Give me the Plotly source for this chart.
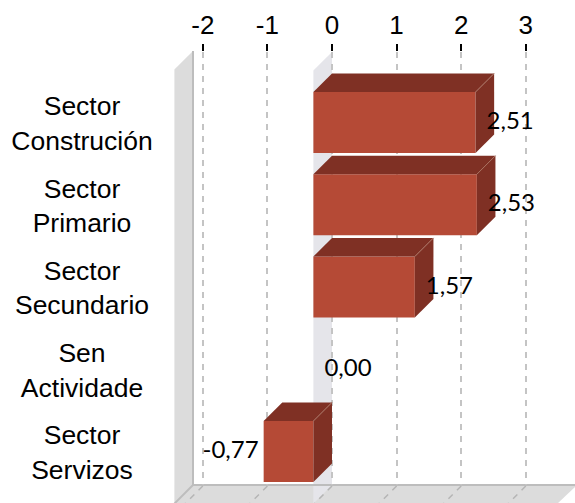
import plotly.graph_objects as go

categories = ["Sector<br>Construción", "Sector<br>Primario", "Sector<br>Secundario", "Sen<br>Actividade", "Sector<br>Servizos"]
values = [2.51, 2.53, 1.57, 0.00, -0.77]
value_labels = ["2,51", "2,53", "1,57", "0,00", "-0,77"]
x_ticks = [-2, -1, 0, 1, 2, 3]

W, H = 575, 503
X0, XU = 332.0, 64.6      # pixel of value 0 on back plane, pixels per unit
Y0, YU = 122.5, 82.25     # pixel of first category centre, pixels per category
DPX = 18.6                # oblique depth of the 3D box in pixels
TOP, BOTTOM = 52, 485

dx, dy = DPX / XU, DPX / YU
bar_h = 61 / YU
ys = list(range(len(values)))
FRONT = "#b54a36"
DARK = "#7f3024"
WALL = "#dcdcdc"
EDGE = "#bdbdbd"

def px(x, y):
    return x / W, 1 - y / H

def poly(points, fill, line=None, width=0, layer="below", opacity=1):
    p = [px(*q) for q in points]
    path = "M " + " L ".join(f"{a:.5f},{b:.5f}" for a, b in p) + " Z"
    return dict(type="path", xref="paper", yref="paper", path=path, fillcolor=fill,
                line=dict(color=line or fill, width=width), layer=layer, opacity=opacity)

def seg(a, b, color, width=1, dash="solid", layer="below"):
    (x0, y0), (x1, y1) = px(*a), px(*b)
    return dict(type="line", xref="paper", yref="paper", x0=x0, y0=y0, x1=x1, y1=y1,
                line=dict(color=color, width=width, dash=dash), layer=layer)

shapes = [
    poly([(193, 51), (193, BOTTOM), (174.4, 503.6), (174.4, 69.6)], WALL),
    poly([(193, BOTTOM), (577, BOTTOM), (557, 504), (174.4, 504)], WALL),
    poly([(X0, TOP), (X0, BOTTOM), (X0 - DPX, 503.6), (X0 - DPX, TOP + DPX)], "#e5e5ea"),
    seg((193, 51), (193, BOTTOM), EDGE, 2),
    seg((193, BOTTOM), (576, BOTTOM), EDGE, 2),
    seg((193, BOTTOM), (174.4, 503.6), EDGE, 2),
]
for t in x_ticks:
    tx = X0 + t * XU
    shapes.append(seg((tx, BOTTOM + 1), (tx - DPX, BOTTOM + 1 + DPX), "#b5b5b5", 1.5, "6px,6px"))

fig = go.Figure()
fig.add_trace(go.Bar(
    y=ys, x=values, base=[-dx] * len(values), orientation="h", width=bar_h,
    marker=dict(color=FRONT, line=dict(width=0)), hoverinfo="skip", showlegend=False,
))

for v, y in zip(values, ys):
    if v == 0:
        continue
    lo, hi = min(v, 0) - dx, max(v, 0) - dx
    t, b = y - bar_h / 2, y + bar_h / 2
    top_x = [lo, lo + dx, hi + dx, hi, lo]
    top_y = [t, t - dy, t - dy, t, t]
    side_x = [hi, hi + dx, hi + dx, hi, hi]
    side_y = [t, t - dy, b - dy, b, t]
    for xs, yy in ((top_x, top_y), (side_x, side_y)):
        fig.add_trace(go.Scatter(x=xs, y=yy, mode="lines", fill="toself", fillcolor=DARK,
                                 line=dict(width=0, color=DARK), hoverinfo="skip", showlegend=False))
    fig.add_trace(go.Scatter(x=[hi, hi + dx], y=[t, t - dy], mode="lines",
                             line=dict(width=1, color="#a8705f"), hoverinfo="skip", showlegend=False))

off = 11 / XU
label_font = dict(family="Lato", size=24, color="black")
pos = [v for v in values if v >= 0]
fig.add_trace(go.Scatter(
    x=[v - dx + off for v in pos], y=[y + 0.5 / YU for v, y in zip(values, ys) if v >= 0],
    text=[l for v, l in zip(values, value_labels) if v >= 0],
    mode="text", textposition="middle right", textfont=label_font,
    cliponaxis=False, hoverinfo="skip", showlegend=False))
fig.add_trace(go.Scatter(
    x=[v - dx - 5 / XU for v in values if v < 0], y=[y + 0.5 / YU for v, y in zip(values, ys) if v < 0],
    text=[l for v, l in zip(values, value_labels) if v < 0],
    mode="text", textposition="middle left", textfont=label_font,
    cliponaxis=False, hoverinfo="skip", showlegend=False))

fig.add_trace(go.Scatter(
    x=[(82 - X0) / XU] * len(categories), y=[y + 3.5 / YU for y in ys], text=categories,
    mode="text", textposition="middle center",
    textfont=dict(family="Liberation Sans", size=26.5, color="black"),
    cliponaxis=False, hoverinfo="skip", showlegend=False))

fig.update_layout(
    width=W, height=H, margin=dict(l=0, r=0, t=0, b=0), autosize=False,
    paper_bgcolor="white", plot_bgcolor="rgba(0,0,0,0)", shapes=shapes, showlegend=False,
    xaxis=dict(
        domain=[0, 1], range=[(0 - X0) / XU, (W - X0) / XU], side="top", anchor="y",
        tickmode="array", tickvals=x_ticks, ticktext=[str(t) for t in x_ticks],
        ticks="outside", ticklen=7, tickwidth=2, tickcolor="black",
        tickfont=dict(family="Liberation Sans", size=26, color="black"),
        showgrid=True, gridcolor="#c4c4c4", gridwidth=1.5, griddash="6px,6px",
        zeroline=False, showline=False,
    ),
    yaxis=dict(
        domain=[1 - BOTTOM / H, 1 - TOP / H],
        range=[(BOTTOM - Y0) / YU, (TOP - Y0) / YU],
        visible=False, showgrid=False, zeroline=False,
    ),
)
fig.write_html("out.html", config={"displayModeBar": False},
               post_script="document.body.style.margin='0';document.body.style.overflow='hidden';")
